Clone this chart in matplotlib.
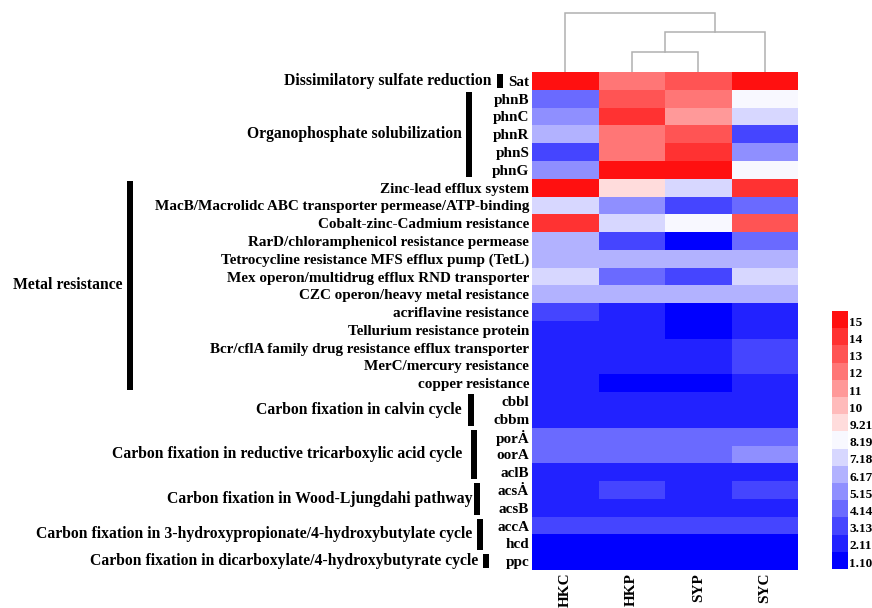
import numpy as np
import matplotlib
matplotlib.use("Agg")
import matplotlib.pyplot as plt
from matplotlib.colors import ListedColormap, BoundaryNorm
from matplotlib.patches import Rectangle
import matplotlib.transforms as mtransforms

# ---------------- data ----------------
samples = ["HKC", "HKP", "SYP", "SYC"]

genes = ["Sat", "phnB", "phnC", "phnR", "phnS", "phnG",
         "Zinc-lead efflux system",
         "MacB/Macrolidc ABC transporter permease/ATP-binding",
         "Cobalt-zinc-Cadmium resistance",
         "RarD/chloramphenicol resistance permease",
         "Tetrocycline resistance MFS efflux pump (TetL)",
         "Mex operon/multidrug efflux RND transporter",
         "CZC operon/heavy metal resistance",
         "acriflavine resistance",
         "Tellurium resistance protein",
         "Bcr/cflA family drug resistance efflux transporter",
         "MerC/mercury resistance",
         "copper resistance",
         "cbbl", "cbbm", "por\u0226", "oorA", "aclB", "acs\u0226", "acsB",
         "accA", "hcd", "ppc"]

values = [
    [15, 12, 13, 15],          # Sat
    [4.14, 13, 12, 8.19],      # phnB
    [5.15, 14, 11, 7.18],      # phnC
    [6.17, 12, 13, 3.13],      # phnR
    [3.13, 12, 14, 5.15],      # phnS
    [5.15, 15, 15, 8.19],      # phnG
    [15, 9.21, 7.18, 14],      # Zinc-lead
    [7.18, 5.15, 3.13, 4.14],  # MacB
    [14, 7.18, 8.19, 13],      # Cobalt
    [6.17, 3.13, 1.10, 4.14],  # RarD
    [6.17, 6.17, 6.17, 6.17],  # Tetrocycline
    [7.18, 4.14, 3.13, 7.18],  # Mex
    [6.17, 6.17, 6.17, 6.17],  # CZC
    [3.13, 2.11, 1.10, 2.11],  # acriflavine
    [2.11, 2.11, 1.10, 2.11],  # Tellurium
    [2.11, 2.11, 2.11, 3.13],  # Bcr
    [2.11, 2.11, 2.11, 3.13],  # MerC
    [2.11, 1.10, 1.10, 2.11],  # copper
    [2.11, 2.11, 2.11, 2.11],  # cbbl
    [2.11, 2.11, 2.11, 2.11],  # cbbm
    [4.14, 4.14, 4.14, 4.14],  # porA
    [4.14, 4.14, 4.14, 5.15],  # oorA
    [2.11, 2.11, 2.11, 2.11],  # aclB
    [2.11, 3.13, 2.11, 3.13],  # acsA
    [2.11, 2.11, 2.11, 2.11],  # acsB
    [3.13, 3.13, 3.13, 3.13],  # accA
    [1.10, 1.10, 1.10, 1.10],  # hcd
    [1.10, 1.10, 1.10, 1.10],  # ppc
]

group_names = ["Dissimilatory sulfate reduction",
               "Organophosphate solubilization",
               "Metal resistance",
               "Carbon fixation in calvin cycle",
               "Carbon fixation in reductive tricarboxylic acid cycle",
               "Carbon fixation in Wood-Ljungdahi pathway",
               "Carbon fixation in 3-hydroxypropionate/4-hydroxybutylate cycle",
               "Carbon fixation in dicarboxylate/4-hydroxybutyrate cycle"]
group_sizes = [1, 5, 12, 2, 3, 2, 2, 1]

level_labels = ["1.10", "2.11", "3.13", "4.14", "5.15", "6.17", "7.18", "8.19",
                "9.21", "10", "11", "12", "13", "14", "15"]
level_values = [1.10, 2.11, 3.13, 4.14, 5.15, 6.17, 7.18, 8.19,
                9.21, 10, 11, 12, 13, 14, 15]

# dendrogram merges: (left, right, height); new nodes numbered from len(samples)
merges = [(1, 2, 1.0), (4, 3, 2.0), (0, 5, 2.95)]

# ---------------- styles / layout ----------------
level_colors = ["#0000ff", "#2222ff", "#4545ff", "#6a6aff", "#8f8fff", "#b2b2ff",
                "#d7d7ff", "#f8f8ff", "#ffdcdc", "#ffbbbb", "#ff9999", "#ff7676",
                "#ff5454", "#ff3232", "#ff1010"]
W, H = 872, 608
serif = ["Liberation Serif", "DejaVu Serif"]
plt.rcParams["font.family"] = serif

# group label right edges and bar x positions (pixels)
group_label_x = [492, 462, 122, 462, 462, 472, 472, 478]
group_bar_x = [497, 466, 127, 468, 471, 474, 477, 483]
bar_w = 6

fig = plt.figure(figsize=(W / 100, H / 100), dpi=100)


def fr(x0, y0, x1, y1):
    return [x0 / W, 1 - y1 / H, (x1 - x0) / W, (y1 - y0) / H]


hm_x0, hm_x1, hm_y0, hm_y1 = 532, 798, 72, 570
ax = fig.add_axes(fr(hm_x0, hm_y0, hm_x1, hm_y1))

cmap = ListedColormap(level_colors)
bounds = [0.5] + [(level_values[i] + level_values[i + 1]) / 2 for i in range(len(level_values) - 1)] + [16]
norm = BoundaryNorm(bounds, cmap.N)

data = np.array(values, dtype=float)
nrow, ncol = data.shape
ax.pcolormesh(np.arange(ncol + 1), np.arange(nrow + 1), data, cmap=cmap, norm=norm,
              edgecolor="none")
ax.set_xlim(0, ncol)
ax.set_ylim(nrow, 0)
ax.set_yticks(np.arange(nrow) + 0.5)
ax.set_yticklabels(genes, fontsize=10.9, fontweight="bold", family=serif)
ax.set_xticks(np.arange(ncol) + 0.5)
ax.set_xticklabels(samples, rotation=90, fontsize=11, fontweight="bold", family=serif,
                   va="top")
ax.tick_params(length=0, pad=2)
ax.tick_params(axis="x", pad=2)
for s in ax.spines.values():
    s.set_visible(False)

# ---------------- groups ----------------
trans = mtransforms.blended_transform_factory(fig.transFigure, ax.transData)
start = 0
for name, size, lx, bx in zip(group_names, group_sizes, group_label_x, group_bar_x):
    inset = 0.12
    fig.patches.append(Rectangle((bx / W, start + inset), bar_w / W, size - 2 * inset,
                                 transform=trans, facecolor="black", edgecolor="none"))
    fig.text(lx / W, start + size / 2, name, transform=trans, ha="right", va="center",
             fontsize=11.3, fontweight="bold", family=serif)
    start += size

# ---------------- dendrogram ----------------
dax = fig.add_axes(fr(hm_x0, 0, hm_x1, hm_y0))
pos = {i: (i + 0.5, 0.0) for i in range(ncol)}
nid = ncol
for a, b, h in merges:
    xa, ya = pos[a]
    xb, yb = pos[b]
    dax.plot([xa, xa, xb, xb], [ya, h, h, yb], color="#b0b0b0", lw=1.1,
             solid_joinstyle="miter")
    pos[nid] = ((xa + xb) / 2, h)
    nid += 1
dax.set_xlim(0, ncol)
dax.set_ylim(0, 3.6)
dax.axis("off")

# ---------------- colorbar ----------------
cax = fig.add_axes(fr(832, 311, 848, 569))
nlev = len(level_values)
cax.pcolormesh([0, 1], np.arange(nlev + 1), np.array(level_values).reshape(-1, 1),
               cmap=cmap, norm=norm)
cax.set_xlim(0, 1)
cax.set_ylim(0, nlev)
cax.set_xticks([])
cax.yaxis.tick_right()
cax.set_yticks(np.arange(nlev) + 0.4)
cax.set_yticklabels(level_labels, fontsize=9.5, fontweight="bold", family=serif)
cax.tick_params(length=0, pad=1)
for s in cax.spines.values():
    s.set_visible(False)

fig.savefig("out.png", dpi=100)
